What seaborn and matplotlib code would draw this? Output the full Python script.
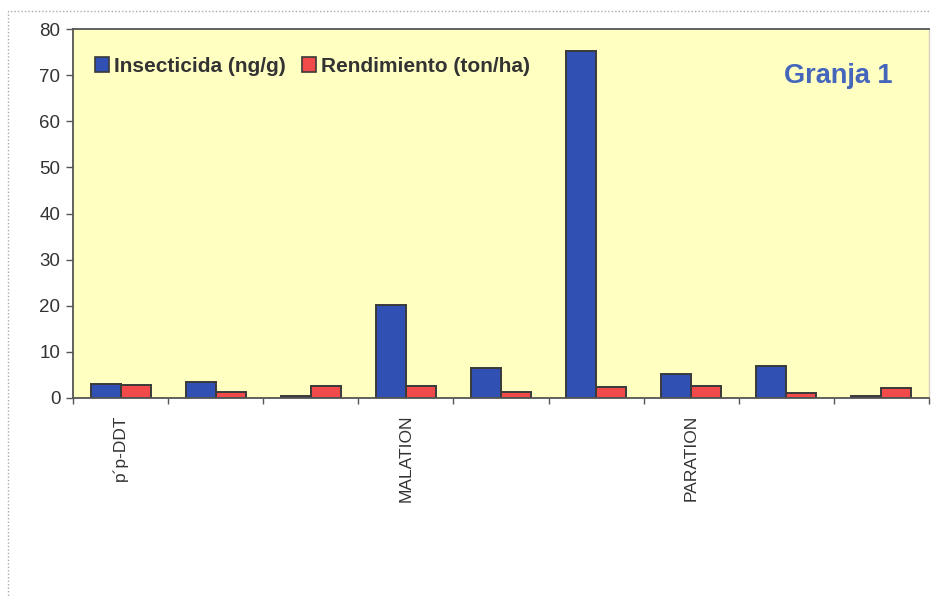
import matplotlib
matplotlib.use("Agg")
import matplotlib.pyplot as plt
from matplotlib.patches import Rectangle, Patch
import seaborn as sns
import pandas as pd

# Samples: three per insecticide
muestras = ["DDT-1", "DDT-2", "DDT-3", "MAL-1", "MAL-2", "MAL-3", "PAR-1", "PAR-2", "PAR-3"]
etiquetas = ["p´p-DDT", "", "", "MALATION", "", "", "PARATION", "", ""]
insecticida = [3.0, 3.4, 0.4, 20.2, 6.4, 75.2, 5.3, 7.0, 0.5]
rendimiento = [2.9, 1.4, 2.6, 2.7, 1.2, 2.3, 2.5, 1.1, 2.2]
series = ["Insecticida (ng/g)", "Rendimiento (ton/ha)"]
yticks = [0, 10, 20, 30, 40, 50, 60, 70, 80]

df = pd.DataFrame({
    "muestra": muestras * 2,
    "serie": [series[0]] * len(muestras) + [series[1]] * len(muestras),
    "valor": insecticida + rendimiento,
})

sns.set_theme(style="white")
plt.rcParams["font.family"] = ["Liberation Sans", "DejaVu Sans"]

azul = "#3050B4"
rojo = "#F04A4A"
fondo = "#FFFFC2"
borde = "#3A3A3A"

fig = plt.figure(figsize=(9.31, 5.97), dpi=100)
fig.patch.set_facecolor("white")
ax = fig.add_axes([73 / 931, 1 - 398 / 597, (929 - 73) / 931, (398 - 29) / 597])
ax.set_facecolor(fondo)

sns.barplot(data=df, x="muestra", y="valor", hue="serie", order=muestras,
            hue_order=series, palette=[azul, rojo], width=0.63,
            edgecolor=borde, linewidth=1.4, saturation=1, ax=ax, legend=False)

ax.set_xlim(-0.5, len(muestras) - 0.5)
ax.set_ylim(0, 80)
ax.set_yticks(yticks)
ax.set_yticklabels([str(v) for v in yticks], fontsize=13.5, color="#333333")
ax.set_xticks(range(len(muestras)))
ax.set_xticklabels(etiquetas, rotation=90, fontsize=12.5, color="#333333")
ax.set_xticks([i - 0.5 for i in range(len(muestras) + 1)], minor=True)
ax.tick_params(axis="x", which="major", length=0, pad=12, bottom=True)
ax.tick_params(axis="x", which="minor", length=4, width=1, color="#555555",
               direction="out", bottom=True)
ax.tick_params(axis="y", which="major", length=5, width=1, color="#555555",
               direction="out", pad=4, left=True)
ax.set_xlabel("")
ax.set_ylabel("")

for side in ["left", "bottom", "top"]:
    ax.spines[side].set_visible(True)
    ax.spines[side].set_color("#555555")
    ax.spines[side].set_linewidth(1.3)
ax.spines["right"].set_color("#D8D0C0")
ax.spines["right"].set_linewidth(1)

handles = [Patch(facecolor=azul, edgecolor=borde, linewidth=1.2),
           Patch(facecolor=rojo, edgecolor=borde, linewidth=1.2)]
leg = ax.legend(handles, series, loc="center left", bbox_to_anchor=(76 / 931, 1 - 66 / 597),
                bbox_transform=fig.transFigure, ncol=2, frameon=False,
                handlelength=0.7, handleheight=0.7, handletextpad=0.2,
                columnspacing=0.8, prop={"weight": "bold", "size": 15})
for t in leg.get_texts():
    t.set_color("#333333")

fig.text(893 / 931, 1 - 76 / 597, "Granja 1", ha="right", va="center",
         fontsize=19.5, fontweight="bold", color="#4466BB")

# Dotted frame around the chart object
fig.patches.append(Rectangle((8 / 931, -0.02), 1.0, 1 - 11 / 597 + 0.02,
                             transform=fig.transFigure, fill=False,
                             edgecolor="#AAAAAA", linestyle=(0, (1, 1.5)),
                             linewidth=1, zorder=0))

fig.savefig("out.png", dpi=100, facecolor="white")
